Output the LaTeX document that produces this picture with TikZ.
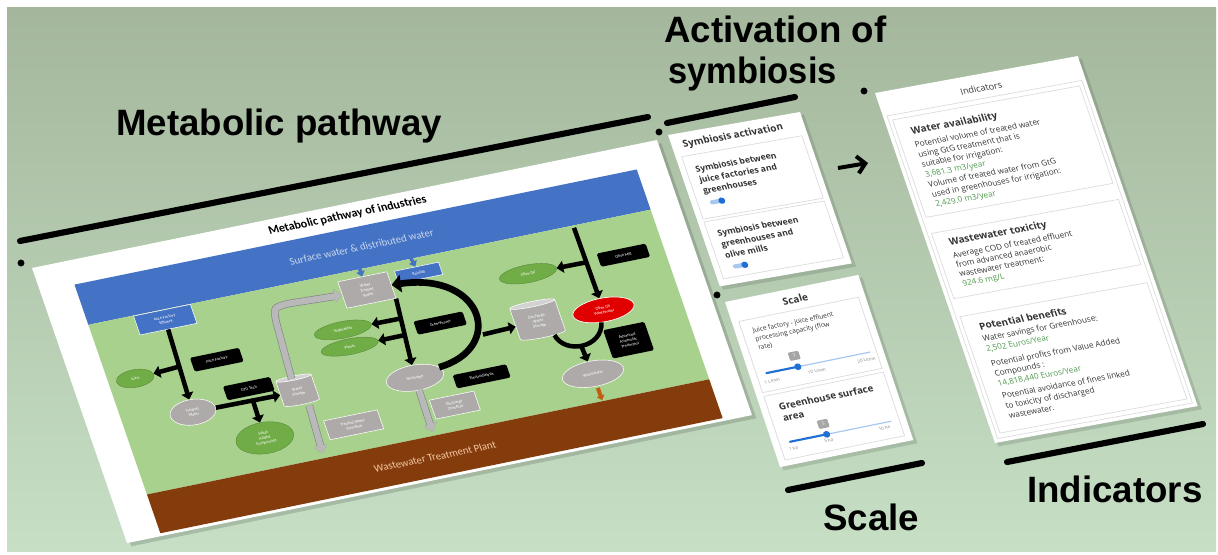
\documentclass[tikz,border=0pt]{standalone}
\usepackage{fontspec}
\setmainfont{Liberation Sans}
\newfontfamily\dashf{Open Sans}
\newfontfamily\slidef{Carlito}
\usetikzlibrary{arrows.meta,shapes.geometric,calc}
\definecolor{bgtop}{HTML}{A4B79C}
\definecolor{bgbot}{HTML}{C6DFC5}
\definecolor{sblue}{HTML}{4472C4}
\definecolor{sgreen}{HTML}{A9D18E}
\definecolor{sbrown}{HTML}{843C0C}
\definecolor{egreen}{HTML}{70AD47}
\definecolor{egray}{HTML}{AEAAAA}
\definecolor{ered}{HTML}{E00000}
\definecolor{vgreen}{HTML}{4E9A4E}
\definecolor{dtext}{HTML}{333333}
\definecolor{sliderblue}{HTML}{1F6FD6}
\definecolor{slidertrack}{HTML}{A8C8F0}
\definecolor{brnarrow}{HTML}{C55A11}
\definecolor{surftxt}{HTML}{C9D7EE}
\definecolor{wwtptxt}{HTML}{F4C7A4}
\begin{document}
\begin{tikzpicture}[x=0.75pt,y=-0.75pt,
  bigtitle/.style={font=\fontsize{27.5}{30}\selectfont\bfseries, inner sep=0, anchor=base west},
  lblbar/.style={line width=4.6pt, line cap=round, black},
  slidetxt/.style={font=\slidef\fontsize{3.2}{3.7}\selectfont, text=white, align=center, inner sep=0.5pt},
  blkbox/.style={slidetxt, fill=black, rounded corners=1.2pt},
  blubox/.style={slidetxt, fill=sblue, draw=white, line width=0.4pt},
  grybox/.style={slidetxt, fill=egray, draw=white, line width=0.4pt},
  grnell/.style={slidetxt, ellipse, fill=egreen, draw=egreen!80!black, line width=0.3pt},
  gryell/.style={slidetxt, ellipse, fill=egray, draw=white, line width=0.4pt},
  redell/.style={slidetxt, ellipse, fill=ered, draw=white, line width=0.5pt},
  cylnode/.style={slidetxt, cylinder, shape border rotate=90, aspect=0.3, cylinder uses custom fill, cylinder body fill=egray, cylinder end fill=gray!35, draw=white, line width=0.4pt},
  blkarr/.style={draw=black, line width=3.4pt, -{Triangle[length=5pt,width=9pt]}},
  blkline/.style={draw=black, line width=3.4pt},
  bigarr/.style={draw=black, line width=5pt, -{Triangle[length=7pt,width=13pt]}},
  gryarr/.style={draw=gray!55, line width=4.6pt, -{Triangle[length=6pt,width=10pt]}, preaction={draw=gray!95, line width=5.6pt}},
  bluarr/.style={draw=sblue, line width=2.6pt, -{Triangle[length=4pt,width=6.5pt]}},
  brnarr/.style={draw=brnarrow, line width=3pt, -{Triangle[length=3.5pt,width=6pt]}},
  dhead/.style={font=\dashf\bfseries\fontsize{7.4}{8}\selectfont, text=dtext, anchor=base west, inner sep=0},
  dbold/.style={font=\dashf\bfseries\fontsize{6.4}{7}\selectfont, text=dtext, anchor=base west, inner sep=0},
  dbig/.style={font=\dashf\bfseries\fontsize{7.2}{8}\selectfont, text=dtext, anchor=base west, inner sep=0},
  dsmall/.style={font=\dashf\fontsize{4.9}{5.5}\selectfont, text=dtext, anchor=base west, inner sep=0},
  dtick/.style={font=\dashf\fontsize{3.3}{4}\selectfont, text=gray, inner sep=0},
  dbody/.style={font=\dashf\fontsize{6.1}{7}\selectfont, text=dtext, anchor=base west, inner sep=0},
  dval/.style={dbody, text=vgreen},
  dcard/.style={draw=black!14, line width=0.5pt},
  ttip/.style={fill=gray!70, text=white, rounded corners=0.8pt, font=\dashf\fontsize{3.5}{4}\selectfont, minimum width=8pt, minimum height=6.5pt, inner sep=0}
]
\useasboundingbox (0,0) rectangle (1218,554);
\fill[white] (0,0) rectangle (1218,554);
\shade[top color=bgtop, bottom color=bgbot] (7,7) rectangle (1216,551);

% ---- big labels ----
\node[bigtitle] (tmp) at (116,135) {Metabolic pathway};
\node[bigtitle] (tact) at (664,42) {Activation of};
\node[bigtitle, xscale=0.94] (tsym) at (668,83) {symbiosis};
\node[bigtitle] (tsca) at (823,530) {Scale};
\node[bigtitle] (tind) at (1027,502) {Indicators};

\coordinate (b1a) at (20,241);  \coordinate (b1b) at (648,117);
\coordinate (b2a) at (667,123); \coordinate (b2b) at (795,97);
\coordinate (b3a) at (788,490); \coordinate (b3b) at (922,463);
\coordinate (b4a) at (1007,462); \coordinate (b4b) at (1203,424);
\draw[lblbar] (b1a) -- (b1b);
\draw[lblbar] (b2a) -- (b2b);
\draw[lblbar] (b3a) -- (b3b);
\draw[lblbar] (b4a) -- (b4b);
\fill (21,263) circle (2.6pt);
\fill (659,132) circle (2.6pt);
\fill (864,91) circle (2.6pt);
\fill (717,295) circle (2.6pt);

% ================= MAIN SLIDE =================
\begin{scope}[cm={0.9796,0.2006,-0.3266,0.9453,(32,268)}, every node/.append style={transform shape}]
\fill[black,opacity=0.15] (3,4) rectangle (641,295);
\fill[white] (0,0) rectangle (638,291);
\fill[sblue] (35,25) rectangle (609,67.5);
\fill[sgreen] (35,67.5) rectangle (609,247);
\fill[sbrown] (35,247) rectangle (609,288);
\node[font=\slidef\bfseries\fontsize{9}{10}\selectfont, inner sep=0] (sltitle) at (318,12) {Metabolic pathway of industries};
\node[font=\slidef\fontsize{8}{9}\selectfont, text=surftxt, inner sep=0] (surf) at (321,46) {Surface water \& distributed water};
\node[font=\slidef\fontsize{8}{9}\selectfont, text=wwtptxt, inner sep=0] (wwtp) at (322,268) {Wastewater Treatment Plant};

% nodes
\node[blubox, minimum width=43.5pt, minimum height=15pt] (jfe) at (110,78) {Juice Factory\\Effluent};
\node[blubox, minimum width=33.75pt, minimum height=9.75pt] (rain) at (367,83) {Rainfall};
\node[grnell, minimum width=28.5pt, minimum height=13.5pt] (juice) at (62,130) {Juice};
\node[grnell, minimum width=43.5pt, minimum height=12.75pt] (veg) at (276,124) {Vegetables};
\node[grnell, minimum width=43.5pt, minimum height=12pt] (plants) at (277,142) {Plants};
\node[grnell, minimum width=43.5pt, minimum height=24pt] (vac) at (166,215) {Value\\Added\\Compounds};
\node[grnell, minimum width=43.5pt, minimum height=13.5pt] (ooil) at (471,106) {Olive Oil};
\node[gryell, minimum width=34.5pt, minimum height=19.5pt] (tw) at (106,175) {Treated\\Water};
\node[gryell, minimum width=43.5pt, minimum height=19.5pt] (disch) at (329,186) {Discharge};
\node[gryell, minimum width=46.5pt, minimum height=19.5pt] (ww) at (500,218) {Wastewater};
\node[redell, minimum width=46.5pt, minimum height=18pt] (oow) at (531,157) {Olive Oil\\Wastewater};
\node[grybox, minimum width=37.5pt, minimum height=21pt] (wtw) at (312,89.5) {Water\\Treated\\Water};
\node[grybox, minimum width=41pt, minimum height=15pt] (two) at (255,220) {Treated Water\\Overflow};
\node[grybox, minimum width=34pt, minimum height=15pt] (dov) at (358,221) {Discharge\\Overflow};
\node[cylnode, minimum width=27pt, minimum height=22.5pt] (wst) at (213,176) {Water\\Storage};
\node[cylnode, minimum width=34.5pt, minimum height=28.5pt] (dws) at (465,155) {Discharge\\Water\\Storage};
\node[blkbox, minimum width=37.5pt, minimum height=11pt] (bjf) at (146,128) {Juice Factory};
\node[blkbox, minimum width=36pt, minimum height=11pt] (bgtg) at (167,163) {GTG Tech};
\node[blkbox, minimum width=37.5pt, minimum height=10.5pt] (bgh) at (371,137) {Greenhouse};
\node[blkbox, minimum width=41pt, minimum height=10.5pt] (bel) at (393,198) {Electrodialysis};
\node[blkbox, minimum width=37.5pt, minimum height=10.5pt] (bom) at (568,107) {Olive Mill};
\node[blkbox, minimum width=31.5pt, minimum height=22.5pt] (baat) at (545,192) {Advanced\\Anaerobic\\Treatment};

% connectors
\draw[blkarr] (jfe) -- (tw);
\coordinate (jb) at ($(jfe.south)!0.53!(tw.north)$);
\draw[blkarr] (jb) -- (juice);
\draw[blkarr] (tw) -- (wst);
\coordinate (gb) at ($(tw)!0.57!(wst)$);
\draw[blkarr] (gb) -- (vac);
\coordinate (ghtop) at (337,104);
\draw[blkarr] (ghtop) -- (disch);
\draw[blkarr] ($(ghtop)!0.25!(disch)$) -- (veg);
\draw[blkarr] ($(ghtop)!0.46!(disch)$) -- (plants);
\draw[bigarr] (disch.12) .. controls (425,175) and (430,95) .. (wtw.east);
\coordinate (ab) at (408,157);
\draw[blkarr] (ab) -- (dws);
\coordinate (omtop) at (530,70);
\draw[blkarr] (omtop) -- (oow);
\draw[blkarr] ($(omtop)!0.42!(oow)$) -- (ooil);
\coordinate (ul) at (476,172);
\coordinate (ur) at (525,169);
\coordinate (ubot) at (498,189);
\draw[blkline] (ul) .. controls (480,194) and (518,194) .. (ur);
\draw[blkarr] (ubot) -- (ww);
\coordinate (wsttop) at (211,162);
\draw[gryarr] (wsttop) -- (215,103) .. controls (217,88) .. (232,87) -- (wtw.west);
\coordinate (wstbot) at (219,192);
\coordinate (wstout) at (216,242);
\draw[gryarr] (wstbot) -- (wstout);
\coordinate (dout) at (328,243);
\draw[gryarr] (disch) -- (dout);
\coordinate (bl1) at (312,60);
\coordinate (bl2) at (363,58);
\draw[bluarr] (bl1) -- (wtw);
\draw[bluarr] (bl2) -- (rain);
\coordinate (wwout) at (500,246);
\coordinate (wwin) at (500,233);
\draw[brnarr] (wwin) -- (wwout);
\end{scope}

% ================= SYMBIOSIS PANEL =================
\begin{scope}[cm={0.985,0.1716,-0.3238,0.946,(668,135)}, every node/.append style={transform shape}]
\fill[black,opacity=.12] (2,3) rectangle (137,164);
\fill[white] (0,0) rectangle (134,160);
\draw[dcard] (6,24) rectangle (128,90);
\draw[dcard] (6,93) rectangle (128,153);
\node[dhead] (sa) at (11,15) {Symbiosis activation};
\node[dbold] (sa1) at (15,42) {Symbiosis between};
\node[dbold] (sa2) at (15,53.5) {juice factories and};
\node[dbold] (sa3) at (15,65) {greenhouses};
\fill[slidertrack, rounded corners=1.7pt] (18,72.6) rectangle (32,77);
\fill[sliderblue] (30,74.8) circle (2.5pt);
\node[dbold] (sb1) at (15,110) {Symbiosis between};
\node[dbold] (sb2) at (15,121.5) {greenhouses and};
\node[dbold] (sb3) at (15,133) {olive mills};
\fill[slidertrack, rounded corners=1.7pt] (19,140.6) rectangle (33,145);
\fill[sliderblue] (31,142.8) circle (2.5pt);
\end{scope}

\coordinate (arA) at (838,168);
\coordinate (arB) at (868,163);
\draw[line width=3pt, -{Straight Barb[length=6pt,width=13pt]}] (arA) -- (arB);

% ================= SCALE PANEL =================
\begin{scope}[cm={0.980,0.199,-0.3163,0.9488,(725,302)}, every node/.append style={transform shape}]
\fill[black,opacity=.12] (2,3) rectangle (139,178);
\fill[white] (0,0) rectangle (136,174);
\node[dhead, anchor=base] (sc) at (68,15) {Scale};
\draw[dcard] (7,22) rectangle (129,97);
\node[dsmall] (sc1) at (17,36) {Juice factory - juice effluent};
\node[dsmall] (sc2) at (17,45) {processing capacity (flow};
\node[dsmall] (sc3) at (17,54) {rate)};
\node[ttip] (tt1) at (49,67) {7};
\draw[line width=0.9pt, slidertrack] (49,78.5) -- (123,78.5);
\draw[line width=1.6pt, sliderblue, line cap=round] (17,78.5) -- (49,78.5);
\fill[sliderblue] (49,78.5) circle (2.6pt);
\node[dtick, anchor=base west] (l1) at (12,89) {1 L/min};
\node[dtick, anchor=base] (l2) at (66,88) {10 L/min};
\node[dtick, anchor=base east] (l3) at (126,87) {20 L/min};
\draw[dcard] (7,101) rectangle (129,168);
\node[dbig] (sc4) at (18,118) {Greenhouse surface};
\node[dbig] (sc5) at (18,130) {area};
\node[ttip] (tt2) at (55,140) {5};
\draw[line width=0.9pt, slidertrack] (55,151) -- (121,151);
\draw[line width=1.6pt, sliderblue, line cap=round] (17.6,151) -- (55,151);
\fill[sliderblue] (55,151) circle (2.6pt);
\node[dtick, anchor=base west] (h1) at (14,160) {1 ha};
\node[dtick, anchor=base] (h2) at (55,159) {5 ha};
\node[dtick, anchor=base east] (h3) at (118,158) {10 ha};
\end{scope}

% ================= INDICATORS PANEL =================
\begin{scope}[cm={0.984,0.1793,-0.3243,0.9459,(875,93)}, every node/.append style={transform shape}]
\fill[black,opacity=.12] (2,3) rectangle (209,374);
\fill[white] (0,0) rectangle (206,370);
\node[font=\dashf\fontsize{6.8}{8}\selectfont, text=dtext, anchor=base, inner sep=0] (it) at (103,18) {Indicators};
\draw[dcard] (4,25) rectangle (202,366);
\draw[dcard] (8,30) rectangle (198,133);
\draw[dcard] (8,150) rectangle (198,219);
\draw[dcard] (8,238) rectangle (198,361);
\node[dhead] (w0) at (22,48) {Water availability};
\node[dbody] (w1) at (21,61.5) {Potential volume of treated water};
\node[dbody] (w2) at (21,72) {using GtG treatment that is};
\node[dbody] (w3) at (21,82.5) {suitable for irrigation:};
\node[dval] (w4) at (21,93) {3,681.3 m3/year};
\node[dbody] (w5) at (21,103.5) {Volume of treated water from GtG};
\node[dbody] (w6) at (21,114) {used in greenhouses for irrigation:};
\node[dval] (w7) at (21,124.5) {2,429.0 m3/year};
\node[dhead] (x0) at (22,165) {Wastewater toxicity};
\node[dbody] (x1) at (21,178.5) {Average COD of treated effluent};
\node[dbody] (x2) at (21,188.5) {from advanced anaerobic};
\node[dbody] (x3) at (21,198.5) {wastewater treatment:};
\node[dval] (x4) at (21,208.5) {924.6 mg/L};
\node[dhead] (p0) at (23,255) {Potential benefits};
\node[dbody] (p1) at (22,267) {Water savings for Greenhouse:};
\node[dval] (p2) at (22,278) {2,502 Euros/Year};
\node[dbody] (p3) at (22,293.5) {Potential profits from Value Added};
\node[dbody] (p4) at (22,304) {Compounds :};
\node[dval] (p5) at (22,314.5) {14,818,440 Euros/Year};
\node[dbody] (p6) at (22,327.5) {Potential avoidance of fines linked};
\node[dbody] (p7) at (22,338) {to toxicity of discharged};
\node[dbody] (p8) at (22,348.5) {wastewater.};
\end{scope}
\end{tikzpicture}
\end{document}
